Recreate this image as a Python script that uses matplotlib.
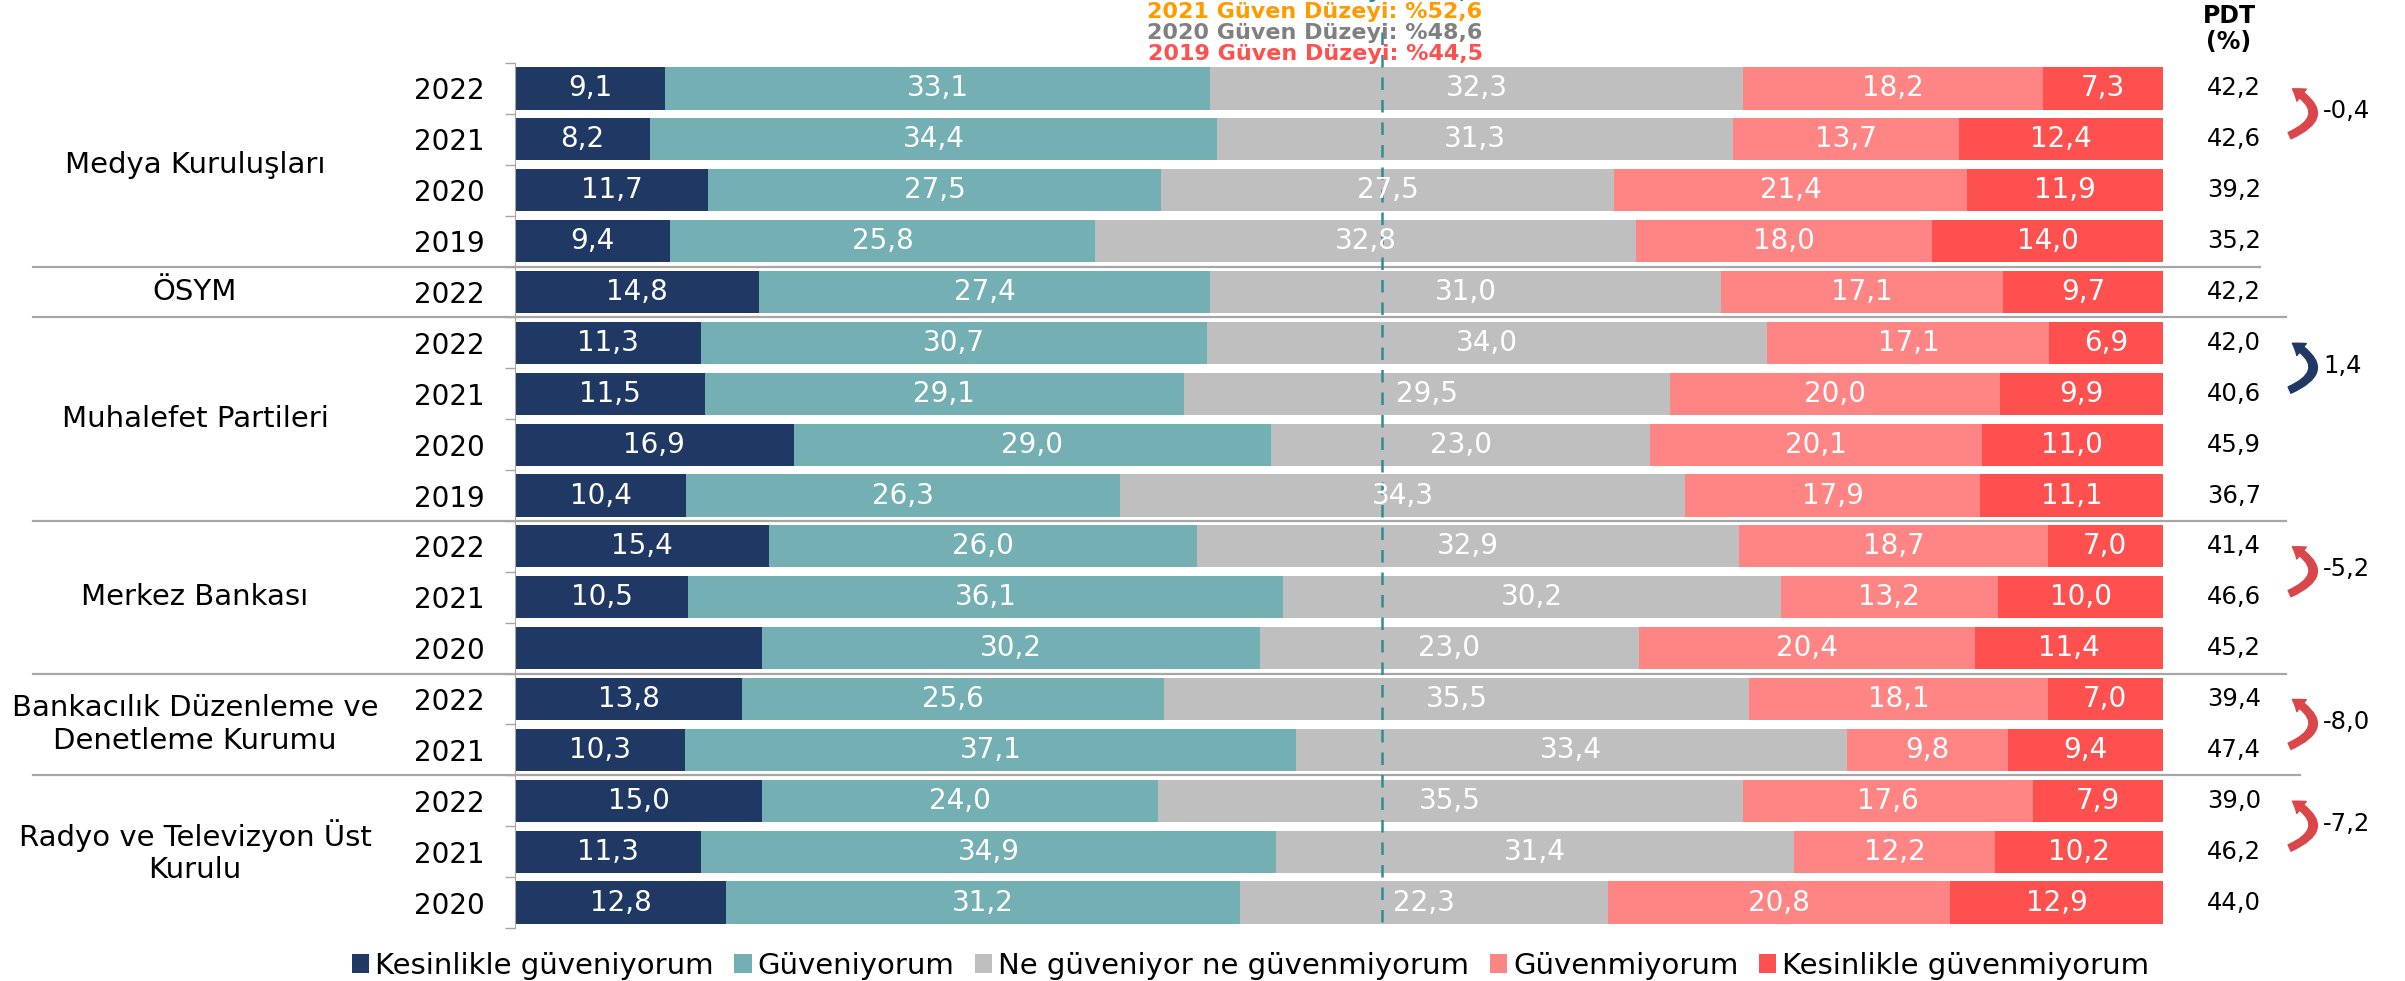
import matplotlib
matplotlib.use("Agg")
import matplotlib.pyplot as plt
import matplotlib.transforms as mtransforms

# kurumlar ve yillar (ustten alta)
groups = ["Medya Kuruluşları", "ÖSYM", "Muhalefet Partileri", "Merkez Bankası",
          "Bankacılık Düzenleme ve\nDenetleme Kurumu", "Radyo ve Televizyon Üst\nKurulu"]
group_years = [[2022, 2021, 2020, 2019], [2022], [2022, 2021, 2020, 2019],
               [2022, 2021, 2020], [2022, 2021], [2022, 2021, 2020]]

categories = ["Kesinlikle güveniyorum", "Güveniyorum", "Ne güveniyor ne güvenmiyorum",
              "Güvenmiyorum", "Kesinlikle güvenmiyorum"]
kesinlikle_guveniyorum = [9.1, 8.2, 11.7, 9.4, 14.8, 11.3, 11.5, 16.9, 10.4, 15.4, 10.5, 15.0, 13.8, 10.3, 15.0, 11.3, 12.8]
guveniyorum = [33.1, 34.4, 27.5, 25.8, 27.4, 30.7, 29.1, 29.0, 26.3, 26.0, 36.1, 30.2, 25.6, 37.1, 24.0, 34.9, 31.2]
kararsiz = [32.3, 31.3, 27.5, 32.8, 31.0, 34.0, 29.5, 23.0, 34.3, 32.9, 30.2, 23.0, 35.5, 33.4, 35.5, 31.4, 22.3]
guvenmiyorum = [18.2, 13.7, 21.4, 18.0, 17.1, 17.1, 20.0, 20.1, 17.9, 18.7, 13.2, 20.4, 18.1, 9.8, 17.6, 12.2, 20.8]
kesinlikle_guvenmiyorum = [7.3, 12.4, 11.9, 14.0, 9.7, 6.9, 9.9, 11.0, 11.1, 7.0, 10.0, 11.4, 7.0, 9.4, 7.9, 10.2, 12.9]
pdt = [42.2, 42.6, 39.2, 35.2, 42.2, 42.0, 40.6, 45.9, 36.7, 41.4, 46.6, 45.2, 39.4, 47.4, 39.0, 46.2, 44.0]

# PDT degisimi gosterilen satir ciftleri (ust satir indeksi)
change_rows = [0, 5, 9, 12, 14]
# etiketi gorunmeyen hucre (satir, kategori)
hidden_labels = [(11, 0)]

guven_lines = [("2022 Güven Düzeyi: %52,6", "#2E8C95"),
               ("2021 Güven Düzeyi: %52,6", "#FF9A00"),
               ("2020 Güven Düzeyi: %48,6", "#808080"),
               ("2019 Güven Düzeyi: %44,5", "#FF5050")]
guven_ref = 52.6

colors = ["#203864", "#74AFB3", "#BFBFBF", "#FF8585", "#FF5050"]
series = [kesinlikle_guveniyorum, guveniyorum, kararsiz, guvenmiyorum, kesinlikle_guvenmiyorum]

W, H = 2405, 981
fig = plt.figure(figsize=(W / 100, H / 100), dpi=100)
ax = fig.add_axes([515 / W, 1 - 928 / H, 1648 / W, 865 / H])

n = len(pdt)
rows = list(range(n))
left = [0.0] * n
for k, vals in enumerate(series):
    ax.barh(rows, vals, left=left, height=0.83, color=colors[k], label=categories[k], zorder=2)
    for i, v in enumerate(vals):
        if (i, k) in hidden_labels:
            continue
        ax.text(left[i] + v / 2, i, f"{v:.1f}".replace(".", ","), ha="center", va="center",
                color="white", fontsize=20, zorder=4)
    left = [a + b for a, b in zip(left, vals)]

ax.set_xlim(0, 100)
ax.set_ylim(n - 0.5, -0.5)

# yil etiketleri
year_labels = [str(y) for ys in group_years for y in ys]
ax.set_yticks(rows)
ax.set_yticklabels(year_labels, fontsize=20)
ax.tick_params(axis="y", which="major", length=0, pad=22)
ax.set_yticks([r - 0.5 for r in range(n + 1)], minor=True)
ax.tick_params(axis="y", which="minor", length=7, color="#A6A6A6", width=1)
ax.set_xticks([])
for s in ["top", "right", "bottom"]:
    ax.spines[s].set_visible(False)
ax.spines["left"].set_color("#A6A6A6")

# dikey referans cizgisi
ax.plot([guven_ref, guven_ref], [-1.1, n - 0.5], color="#2E8C95", lw=1.8,
        ls=(0, (5, 4)), clip_on=False, zorder=3)

# grup adlari ve ayirici cizgiler
blend = mtransforms.blended_transform_factory(fig.transFigure, ax.transData)
start = 0
for gi, (g, ys) in enumerate(zip(groups, group_years)):
    mid = start + (len(ys) - 1) / 2
    ax.text(195 / W, mid, g, transform=blend, ha="center", va="center", fontsize=21)
    start += len(ys)
    if gi < len(groups) - 1:
        x_end = 2260 if gi == 0 else (2300 if gi == len(groups) - 2 else 2286)
        ax.plot([33 / W, x_end / W], [start - 0.5, start - 0.5], transform=blend,
                color="#A6A6A6", lw=1.6, clip_on=False, zorder=1)

# PDT sutunu
fig.text(2229 / W, 1 - 29 / H, "PDT\n(%)", ha="center", va="center", fontsize=17,
         fontweight="bold", linespacing=1.1)
for i, p in enumerate(pdt):
    ax.text(2261 / W, i, f"{p:.1f}".replace(".", ","), transform=blend, ha="right",
            va="center", fontsize=17.5)

# degisim oklari
for r in change_rows:
    d = round(pdt[r] - pdt[r + 1], 1)
    c = "#D9474B" if d < 0 else "#203864"
    ax.annotate("", xy=(2290 / W, r - 0.02), xytext=(2287 / W, r + 0.95),
                xycoords=blend, textcoords=blend,
                arrowprops=dict(arrowstyle="simple,head_width=1.1,head_length=0.8,tail_width=0.5",
                                connectionstyle="arc3,rad=1.0", color=c, mutation_scale=10))
    ax.text(2323 / W, r + 0.45, f"{d:.1f}".replace(".", ","), transform=blend,
            ha="left", va="center", fontsize=17.5)

# ust baslik satirlari
for j, (t, c) in enumerate(guven_lines):
    y = -9 + 20.5 * j
    fig.text(1315 / W, 1 - (y + 1) / H, t, ha="center", va="center", fontsize=16,
             fontweight="bold", color=c)

fig.legend(loc="center", bbox_to_anchor=(0.52, 1 - 966 / H), ncol=5, frameon=False,
           fontsize=21, handlelength=0.6, handleheight=0.6, handletextpad=0.2,
           columnspacing=0.7)

fig.savefig("out.png", dpi=100)
